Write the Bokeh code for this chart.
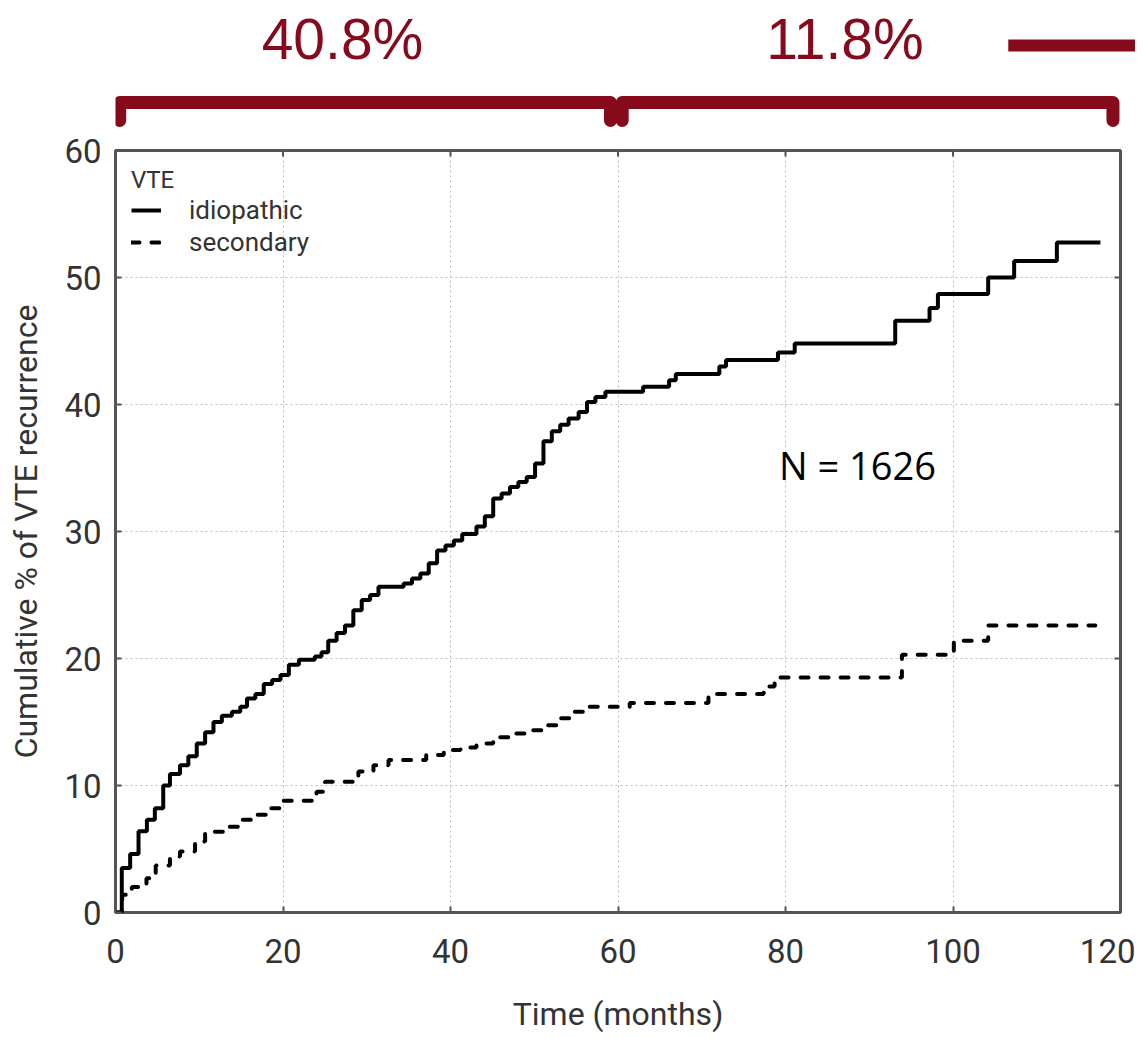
from bokeh.plotting import figure
from bokeh.models import Range1d, FixedTicker
from bokeh.layouts import column
from bokeh.embed import file_html
from bokeh.resources import INLINE
from bokeh.core.properties import value

# ---------------- data ----------------
idio_t = [0, 0.75, 1.75, 2.75, 3.75, 4.7, 5.7, 6.5, 7.7, 8.7, 9.7, 10.7, 11.7, 12.7, 13.9,
          14.9, 15.7, 16.7, 17.7, 18.7, 19.7, 20.7, 21.9, 23.8, 24.6, 25.4, 26.4, 27.4, 28.4,
          29.4, 30.4, 31.4, 34.4, 35.4, 36.4, 37.4, 38.4, 39.4, 40.4, 41.4, 43.1, 44.1, 45.1,
          46.1, 47.1, 48.1, 49.1, 50.1, 51.1, 52.1, 53.1, 54.1, 55.3, 56.3, 57.3, 58.5, 63.0,
          66.1, 66.9, 72.1, 72.9, 79.1, 81.1, 93.1, 97.2, 98.2, 104.2, 107.3, 112.4, 117.6]
idio_y = [0, 3.5, 4.6, 6.4, 7.3, 8.2, 10.0, 10.9, 11.6, 12.3, 13.3, 14.2, 15.0, 15.5, 15.8,
          16.2, 16.85, 17.2, 18.0, 18.3, 18.7, 19.5, 19.9, 20.15, 20.5, 21.4, 22.0, 22.6, 23.8,
          24.6, 25.0, 25.65, 25.9, 26.3, 26.7, 27.5, 28.5, 28.9, 29.3, 29.8, 30.4, 31.2, 32.6,
          33.0, 33.5, 33.9, 34.3, 35.35, 37.1, 37.9, 38.4, 38.9, 39.4, 40.2, 40.6, 41.0, 41.4,
          41.9, 42.4, 43.0, 43.5, 44.1, 44.8, 46.6, 47.6, 48.7, 50.0, 51.3, 52.75, 52.75]

sec_t = [0, 0.8, 1.95, 3.7, 4.8, 6.5, 7.7, 9.5, 10.7, 13.0, 14.7, 16.5, 18.3, 19.9, 24.0,
         25.0, 29.0, 30.8, 32.6, 37.1, 39.2, 41.2, 43.1, 45.1, 47.0, 49.3, 51.1, 52.9, 54.7,
         56.5, 61.4, 70.8, 77.4, 78.7, 93.9, 100.1, 104.2, 117.0]
sec_y = [0, 1.4, 2.0, 2.7, 3.7, 4.4, 4.8, 5.6, 6.35, 6.75, 7.3, 7.7, 8.2, 8.8, 9.5,
         10.3, 11.1, 11.6, 12.0, 12.4, 12.8, 13.0, 13.3, 13.8, 14.1, 14.35, 14.75, 15.3, 15.8,
         16.2, 16.5, 17.2, 17.8, 18.5, 20.3, 21.4, 22.6, 22.6]

period_start = [0, 60]
period_end = [60, 120]
period_label = ["40.8%", "11.8%"]

x_ticks = [0, 20, 40, 60, 80, 100, 120]
y_ticks = [0, 10, 20, 30, 40, 50, 60]
note_text = "N = 1626"

# ---------------- layout constants ----------------
RED = "#860a1c"
B_L, B_R = 115, 15          # left / right borders (px)
FRAME_W, FRAME_H = 1005, 762
TOP_H = 130
FONT = "Roboto"
TXT = "#333333"
X_MIN, X_MAX, Y_MIN, Y_MAX = 0, 120, 0, 60
TICK_PX = 6

# ---------------- top annotation strip ----------------
x_end_top = X_MAX * (FRAME_W + B_R) / FRAME_W
top = figure(frame_width=FRAME_W + B_R, frame_height=TOP_H,
             x_range=Range1d(0, x_end_top), y_range=Range1d(TOP_H, 0),
             x_axis_type=None, y_axis_type=None,
             output_backend="svg", toolbar_location=None,
             min_border_left=B_L, min_border_right=0,
             min_border_top=0, min_border_bottom=0,
             outline_line_color=None)
top.grid.visible = False

bx, by = [], []
for s, e in zip(period_start, period_end):
    x0, x1 = s + 0.5, e - 0.9
    bx.append([x0, x0, x1, x1])
    by.append([120, 102, 102, 120])
top.multi_line(bx, by, line_color=RED, line_width=13, line_join="round", line_cap="round")

lab_x = [(s + e) / 2 - 2.9 for s, e in zip(period_start, period_end)]
top.text(x=lab_x, y=[38, 38], text=period_label, text_color=RED,
         text_font=value("Liberation Sans"), text_font_size="57px",
         text_align="center", text_baseline="middle")
top.segment(x0=[106.6], y0=[45], x1=[x_end_top + 5], y1=[45],
            line_color=RED, line_width=12)

# ---------------- main chart ----------------
p = figure(frame_width=FRAME_W, frame_height=FRAME_H,
           x_range=Range1d(X_MIN, X_MAX), y_range=Range1d(Y_MIN, Y_MAX),
           output_backend="svg", toolbar_location=None,
           min_border_left=B_L, min_border_right=B_R,
           min_border_top=20, min_border_bottom=119,
           x_axis_label="Time (months)",
           y_axis_label="Cumulative % of VTE recurrence")

p.xgrid.ticker = FixedTicker(ticks=x_ticks)
p.ygrid.ticker = FixedTicker(ticks=y_ticks)
for g in (p.xgrid[0], p.ygrid[0]):
    g.grid_line_color = "#bdbdbd"
    g.grid_line_dash = "2 3"
    g.grid_line_width = 1

# inward tick marks on the top and right edges (same ticks as the axes)
dy = TICK_PX * (Y_MAX - Y_MIN) / FRAME_H
dx = TICK_PX * (X_MAX - X_MIN) / FRAME_W
p.segment(x0=x_ticks, y0=[Y_MAX] * len(x_ticks), x1=x_ticks, y1=[Y_MAX - dy] * len(x_ticks),
          line_color="#555555", line_width=2)
p.segment(x0=[X_MAX] * len(y_ticks), y0=y_ticks, x1=[X_MAX - dx] * len(y_ticks), y1=y_ticks,
          line_color="#555555", line_width=2)

p.step(idio_t, idio_y, mode="after", line_color="black", line_width=4,
       legend_label="idiopathic")
p.step(sec_t, sec_y, mode="after", line_color="black", line_width=4,
       line_dash="8 12", line_cap="round", legend_label="secondary")

p.text(x=[88.6], y=[35.25], text=[note_text], text_font=value("Open Sans"),
       text_font_size="38px", text_align="center", text_baseline="middle",
       text_color="black")

p.outline_line_color = "#555555"
p.outline_line_width = 3

for ax in (p.xaxis[0], p.yaxis[0]):
    ax.axis_line_color = None
    ax.major_tick_in = TICK_PX
    ax.major_tick_out = 0
    ax.minor_tick_line_color = None
    ax.major_tick_line_color = "#555555"
    ax.major_tick_line_width = 2
    ax.major_label_text_font = FONT
    ax.major_label_text_font_size = "33px"
    ax.major_label_text_color = TXT
    ax.axis_label_text_font = FONT
    ax.axis_label_text_font_size = "32px"
    ax.axis_label_text_font_style = "normal"
    ax.axis_label_text_color = TXT

p.xaxis[0].ticker = FixedTicker(ticks=x_ticks)
p.yaxis[0].ticker = FixedTicker(ticks=y_ticks)
p.xaxis[0].major_label_standoff = 26
p.yaxis[0].major_label_standoff = 14
p.xaxis[0].axis_label_standoff = 29
p.yaxis[0].axis_label_standoff = 16

lg = p.legend[0]
lg.title = "VTE"
lg.title_text_font = FONT
lg.title_text_font_size = "24px"
lg.title_text_font_style = "normal"
lg.title_text_color = TXT
lg.title_standoff = 0
lg.label_text_font = FONT
lg.label_text_font_size = "26px"
lg.label_text_color = TXT
lg.location = "top_left"
lg.border_line_color = None
lg.background_fill_alpha = 0
lg.glyph_width = 30
lg.glyph_height = 32
lg.label_height = 32
lg.label_standoff = 28
lg.spacing = 0
lg.padding = 8
lg.margin = 16

layout = column(top, p, spacing=0)
open("out.html", "w").write(file_html(layout, INLINE))
